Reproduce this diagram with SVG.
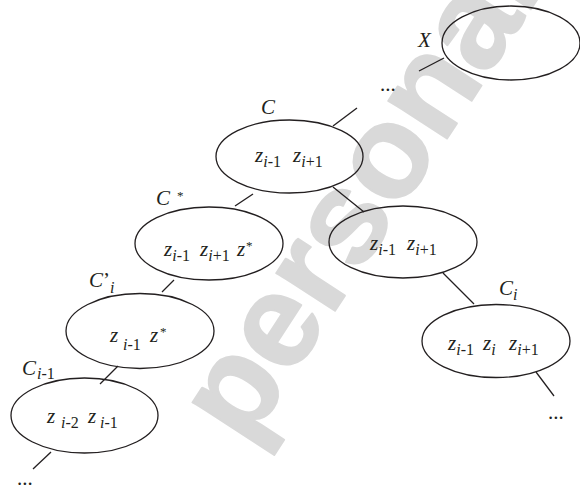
<svg xmlns="http://www.w3.org/2000/svg" width="580" height="488" viewBox="0 0 580 488">
<style>
.wm{font-family:"Liberation Sans",Arial,sans-serif;font-weight:bold;font-size:132px;fill:#d9d9d9;stroke:#d9d9d9;stroke-width:2;stroke-linejoin:round}
.e{fill:none;stroke:#231f20;stroke-width:1.3}
.c line{stroke:#231f20;stroke-width:1.3}
.t{font-family:"Liberation Serif","Times New Roman",serif;font-style:italic;font-size:21px;fill:#231f20}
.sb{font-size:16px}
.n{font-style:normal}
.st{font-style:normal;font-size:13px}
.d{font-family:"Liberation Serif","Times New Roman",serif;font-size:21px;fill:#231f20}
</style>
<rect width="580" height="488" fill="#fff"/>
<text class="wm" text-anchor="middle" transform="translate(396,217) rotate(-57)">personal</text>
<g class="c" id="connectors">
<line x1="419" y1="71" x2="444" y2="58"/>
<line x1="333" y1="126" x2="357" y2="108"/>
<line x1="235" y1="206" x2="253" y2="194"/>
<line x1="333" y1="187" x2="364" y2="212"/>
<line x1="443" y1="273" x2="474" y2="304"/>
<line x1="536" y1="372" x2="554" y2="396"/>
<line x1="162" y1="292" x2="174" y2="280"/>
<line x1="118" y1="366" x2="100" y2="384"/>
<line x1="51" y1="452" x2="33" y2="469"/>
</g>
<text class="d" x="380" y="91">...</text>
<text class="d" x="548" y="419">...</text>
<text class="d" x="17" y="485">...</text>
<g id="nodeX">
<ellipse class="e" cx="511" cy="43" rx="69" ry="37"/>
<text class="t" x="418" y="47">X</text>
</g>
<g id="nodeC">
<ellipse class="e" cx="289.5" cy="156.5" rx="73.5" ry="36.5"/>
<text class="t" x="261" y="114">C</text>
<text class="t"><tspan x="255" y="162">z</tspan><tspan class="sb" y="167">i</tspan><tspan class="sb n">-1</tspan><tspan x="293" y="162">z</tspan><tspan class="sb" y="167">i</tspan><tspan class="sb n">+1</tspan></text>
</g>
<g id="nodeCstar">
<ellipse class="e" cx="209" cy="243.5" rx="74" ry="36.5"/>
<text class="t"><tspan x="156" y="205">C</tspan><tspan class="st" x="177" y="200">*</tspan></text>
<text class="t"><tspan x="164" y="256">z</tspan><tspan class="sb" y="261">i</tspan><tspan class="sb n">-1</tspan><tspan x="200" y="256">z</tspan><tspan class="sb" y="261">i</tspan><tspan class="sb n">+1</tspan><tspan x="237" y="256">z</tspan><tspan class="st" x="246" y="250">*</tspan></text>
</g>
<g id="nodeR">
<ellipse class="e" cx="403" cy="242" rx="74" ry="36"/>
<text class="t"><tspan x="370" y="250">z</tspan><tspan class="sb" y="255">i</tspan><tspan class="sb n">-1</tspan><tspan x="407" y="250">z</tspan><tspan class="sb" y="255">i</tspan><tspan class="sb n">+1</tspan></text>
</g>
<g id="nodeCi">
<ellipse class="e" cx="496" cy="341" rx="74" ry="36.5"/>
<text class="t"><tspan x="499" y="295">C</tspan><tspan class="sb" x="513" y="300">i</tspan></text>
<text class="t"><tspan x="448" y="350">z</tspan><tspan class="sb" y="355">i</tspan><tspan class="sb n">-1</tspan><tspan x="483" y="350">z</tspan><tspan class="sb" y="355">i</tspan><tspan x="509" y="350">z</tspan><tspan class="sb" y="355">i</tspan><tspan class="sb n">+1</tspan></text>
</g>
<g id="nodeCpi">
<ellipse class="e" cx="140" cy="331" rx="74" ry="37.5"/>
<text class="t"><tspan x="89" y="287">C</tspan><tspan class="n" x="103" y="287">’</tspan><tspan class="sb" x="110" y="293">i</tspan></text>
<text class="t"><tspan x="110" y="342">z</tspan><tspan class="sb" x="123" y="350">i</tspan><tspan class="sb n">-1</tspan><tspan x="150" y="342">z</tspan><tspan class="st" x="160" y="336">*</tspan></text>
</g>
<g id="nodeCim1">
<ellipse class="e" cx="84.5" cy="415.5" rx="73.5" ry="37.5"/>
<text class="t"><tspan x="22" y="375">C</tspan><tspan class="sb" x="37" y="379">i</tspan><tspan class="sb n">-1</tspan></text>
<text class="t"><tspan x="47" y="423">z</tspan><tspan class="sb" x="61" y="428">i</tspan><tspan class="sb n">-2</tspan><tspan x="88" y="423">z</tspan><tspan class="sb" x="100" y="428">i</tspan><tspan class="sb n">-1</tspan></text>
</g>
</svg>
